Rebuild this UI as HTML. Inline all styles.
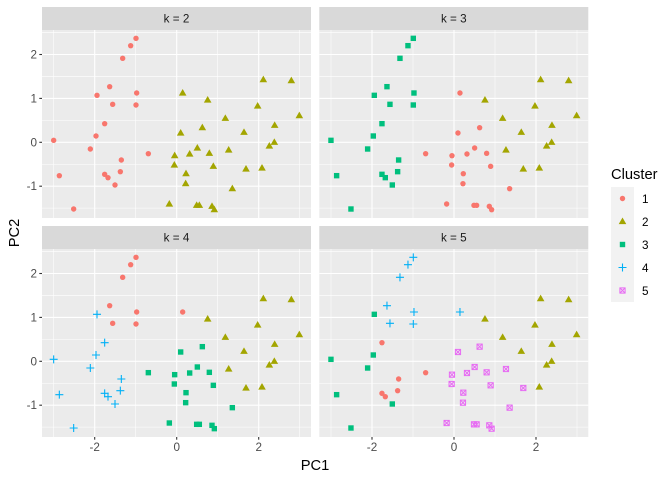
<!DOCTYPE html>
<html><head><meta charset="utf-8"><style>
html,body{margin:0;padding:0;background:#fff;}
svg{display:block;font-family:"Liberation Sans",sans-serif;}
</style></head><body>
<svg id="s" width="672" height="480" xmlns="http://www.w3.org/2000/svg"></svg>
<script>
var P=[[408,115,1,3,1,4],[392,137,1,3,1,4],[368,175,1,3,1,4],[329,260,1,3,1,4],[410,279,1,3,1,4],[291,286,1,3,4,3],[338,313,1,3,1,4],[408,315,1,3,1,4],[314,371,1,3,4,1],[288,408,1,3,4,3],[161,421,1,3,4,3],[271,447,1,3,4,3],[445,461,1,1,3,1],[364,480,1,3,4,1],[361,515,1,3,4,1],[314,523,1,3,4,1],[324,533,1,3,4,1],[345,555,1,3,4,3],[178,527,1,3,4,3],[221,627,1,3,4,3],
[548,279,2,1,1,4],[790,239,2,2,2,2],[874,242,2,2,2,2],[623,300,2,2,2,2],[773,318,2,2,2,2],[676,355,2,2,2,2],[898,347,2,2,2,2],[607,383,2,1,3,5],[824,376,2,2,2,2],[542,399,2,1,3,5],[732,397,2,2,2,2],[808,438,2,2,2,2],[823,427,2,2,2,2],[592,444,2,1,3,5],[686,450,2,2,2,5],[524,467,2,1,3,5],[569,462,2,1,3,5],[628,460,2,1,3,5],[523,495,2,1,3,5],[640,499,2,1,3,5],[738,507,2,2,2,5],[786,504,2,2,2,2],[558,521,2,1,3,5],[557,551,2,1,3,5],[697,566,2,1,3,5],[508,612,2,1,3,5],[590,616,2,1,3,5],[598,616,2,1,3,5],[636,619,2,1,3,5],[643,629,2,1,3,5]];
var C=["","#F8766D","#A3A500","#00BF7D","#00B0F6","#E76BF3"];
function mk(c,x,y){var f=C[c];
 if(c==1)return '<circle cx="'+x+'" cy="'+y+'" r="2.7" fill="'+f+'"/>';
 if(c==2)return '<polygon points="'+x+','+(y-4)+' '+(x-3.8)+','+(y+2.6)+' '+(x+3.8)+','+(y+2.6)+'" fill="'+f+'"/>';
 if(c==3)return '<rect x="'+(x-2.7)+'" y="'+(y-2.7)+'" width="5.4" height="5.4" fill="'+f+'"/>';
 if(c==4)return '<path d="M'+(x-4)+' '+y+'H'+(x+4)+'M'+x+' '+(y-4)+'V'+(y+4)+'" stroke="'+f+'" stroke-width="1.1" fill="none"/>';
 return '<g stroke="'+f+'" stroke-width="1" fill="none"><rect x="'+(x-2.6)+'" y="'+(y-2.6)+'" width="5.2" height="5.2"/><path d="M'+(x-2.6)+' '+(y-2.6)+'L'+(x+2.6)+' '+(y+2.6)+'M'+(x+2.6)+' '+(y-2.6)+'L'+(x-2.6)+' '+(y+2.6)+'"/></g>';}
var h='';
var panels=[[0,0,"k = 2",2],[277.3,0,"k = 3",3],[0,219,"k = 4",4],[277.3,219,"k = 5",5]];
var x0=176.7,xu=41,y0=142.3,yu=43.9;
panels.forEach(function(p,i){var dx=p[0],dy=p[1];
 h+='<rect x="'+(42+dx)+'" y="'+(7+dy)+'" width="269" height="23" fill="#d9d9d9"/>';
 h+='<text x="'+(176.5+dx)+'" y="'+(22.5+dy)+'" font-size="11.7" fill="#1a1a1a" text-anchor="middle">'+p[2]+'</text>';
 h+='<rect x="'+(42+dx)+'" y="'+(30+dy)+'" width="269" height="188" fill="#ebebeb"/>';
 [-3,-1,1,3].forEach(function(v){var x=x0+v*xu+dx;h+='<line x1="'+x+'" x2="'+x+'" y1="'+(30+dy)+'" y2="'+(218+dy)+'" stroke="#fff" stroke-width="0.55"/>';});
 [2.5,1.5,0.5,-0.5,-1.5].forEach(function(v){var y=y0-v*yu+dy;h+='<line x1="'+(42+dx)+'" x2="'+(311+dx)+'" y1="'+y+'" y2="'+y+'" stroke="#fff" stroke-width="0.55"/>';});
 [-2,0,2].forEach(function(v){var x=x0+v*xu+dx;h+='<line x1="'+x+'" x2="'+x+'" y1="'+(30+dy)+'" y2="'+(218+dy)+'" stroke="#fff" stroke-width="1.1"/>';});
 [2,1,0,-1].forEach(function(v){var y=y0-v*yu+dy;h+='<line x1="'+(42+dx)+'" x2="'+(311+dx)+'" y1="'+y+'" y2="'+y+'" stroke="#fff" stroke-width="1.1"/>';});
 P.forEach(function(q){h+=mk(q[p[3]],q[0]/3+dx,q[1]/3+dy);});
 if(dx==0){[2,1,0,-1].forEach(function(v){var y=y0-v*yu+dy;h+='<line x1="39.3" x2="42" y1="'+y+'" y2="'+y+'" stroke="#333" stroke-width="1.1"/><text x="37" y="'+(y+4)+'" font-size="11.7" fill="#4d4d4d" text-anchor="end">'+(v<0?'-1':v)+'</text>';});}
 if(dy>0){[-2,0,2].forEach(function(v){var x=x0+v*xu+dx;h+='<line x1="'+x+'" x2="'+x+'" y1="437" y2="439.7" stroke="#333" stroke-width="1.1"/><text x="'+x+'" y="451" font-size="11.7" fill="#4d4d4d" text-anchor="middle">'+(v<0?'-2':v)+'</text>';});}
});
h+='<text x="315" y="470" font-size="14.7" fill="#000" text-anchor="middle">PC1</text>';
h+='<text transform="translate(19,233) rotate(-90)" font-size="14.7" fill="#000" text-anchor="middle">PC2</text>';
h+='<text x="611" y="179" font-size="14.7" fill="#000">Cluster</text>';
for(var k=1;k<=5;k++){var y=187+(k-1)*23;h+='<rect x="611" y="'+y+'" width="23" height="23" fill="#f2f2f2"/>'+mk(k,622.5,y+11.5)+'<text x="642" y="'+(y+16)+'" font-size="11.7" fill="#000">'+k+'</text>';}
document.getElementById('s').innerHTML=h;
</script>
</body></html>
